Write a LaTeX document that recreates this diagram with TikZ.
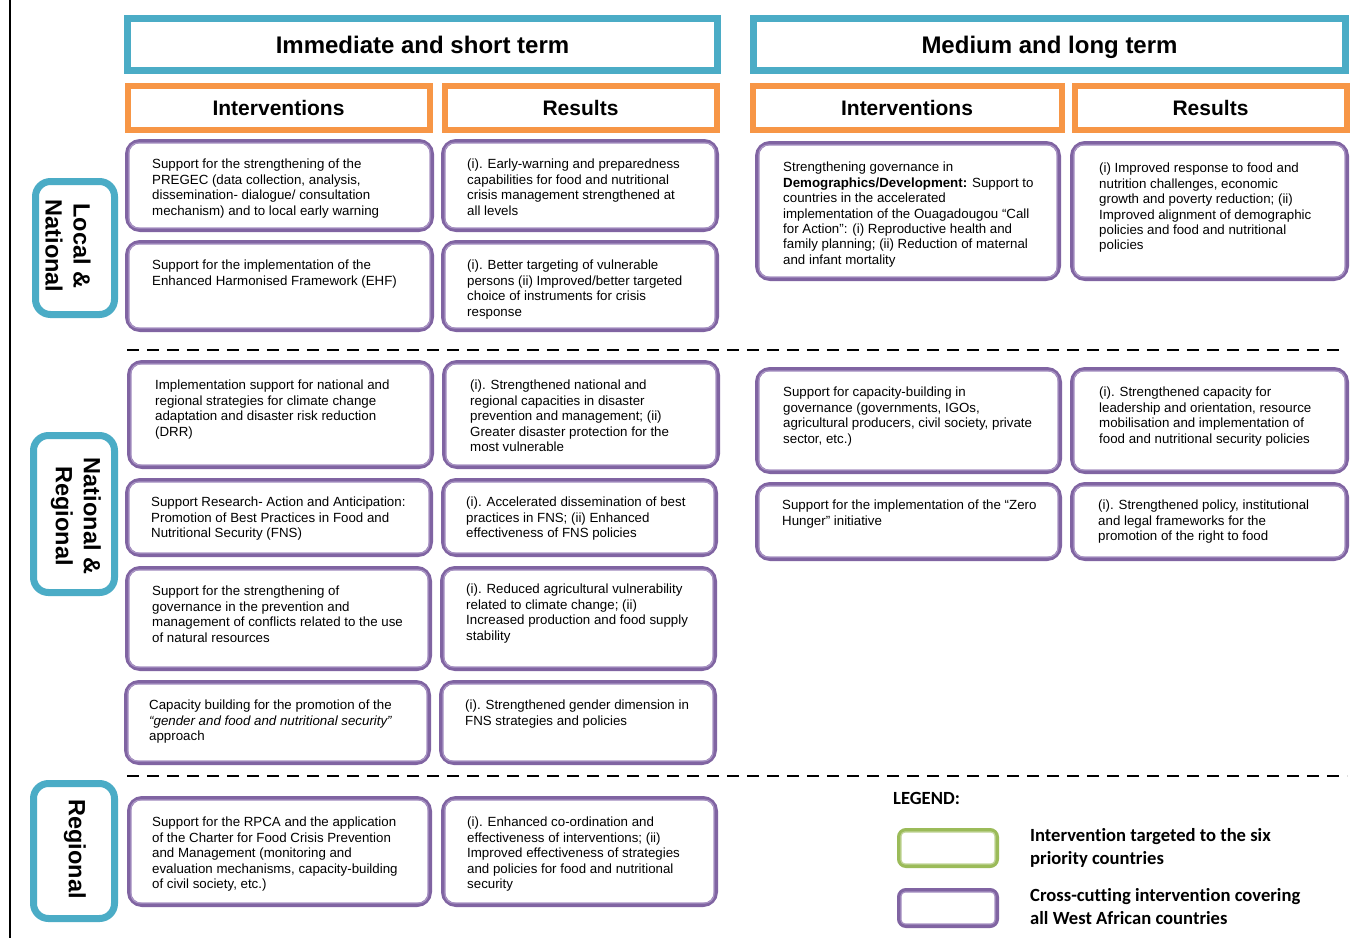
\documentclass[tikz,border=0pt]{standalone}
\usepackage{fontspec}
\setmainfont{Liberation Sans}
\newfontfamily\legfont[Ligatures=NoCommon]{Carlito}
\definecolor{cTeal}{HTML}{4BACC6}
\definecolor{cOrange}{HTML}{F79646}
\definecolor{cPurple}{HTML}{8064A2}
\definecolor{cPurpleIn}{HTML}{A994C4}
\definecolor{cGreen}{HTML}{9BBB59}
\definecolor{cGreenIn}{HTML}{C3D69B}
\tikzset{
  hdr/.style={draw=cTeal, line width=7pt, fill=white, inner sep=0pt, text height=17pt, text depth=0pt, font=\fontsize{24}{28}\selectfont\bfseries},
  subhdr/.style={draw=cOrange, line width=6pt, fill=white, inner sep=0pt, text height=15pt, text depth=0pt, font=\fontsize{21}{25}\selectfont\bfseries},
  side/.style={draw=cTeal, line width=7pt, rounded corners=15pt, fill=white, inner sep=0pt},
  sidetxt/.style={rotate=-90, align=center, inner sep=0pt, font=\fontsize{23.5}{28}\selectfont\bfseries},
  pout/.style={draw=cPurple, line width=4pt, rounded corners=13pt, fill=white, inner sep=0pt},
  pin/.style={draw=cPurpleIn, line width=1.2pt, rounded corners=9pt},
  gout/.style={draw=cGreen, line width=4pt, rounded corners=7pt, fill=white, inner sep=0pt},
  gin/.style={draw=cGreenIn, line width=1.2pt, rounded corners=4pt},
  lout/.style={draw=cPurple, line width=4pt, rounded corners=7pt, fill=white, inner sep=0pt},
  lin/.style={draw=cPurpleIn, line width=1.2pt, rounded corners=4pt},
  body/.style={anchor=north west, align=left, inner sep=0pt, font=\fontsize{13.3}{15.4}\selectfont},
  legt/.style={align=left, inner sep=0pt, font=\legfont\fontsize{18.6}{23}\selectfont\bfseries},
  sepline/.style={line width=2.5pt, dash pattern=on 12pt off 8pt},
}
% name x1 y1 x2 y2 textx texty text
\newcommand\pbx[8]{%
  \node[pout, minimum width={#4-#2-4}, minimum height={#5-#3-4}] (#1) at ({(#2+#4)/2},{(#3+#5)/2}) {};
  \draw[pin] ([shift={(4,4)}]#1.north west) rectangle ([shift={(-4,-4)}]#1.south east);
  \node[body] (#1t) at (#6,{#7+2}) {#8};
}
\begin{document}
\begin{tikzpicture}[x=1pt, y=-1pt]
\useasboundingbox (0,0) rectangle (1363,938);
\fill[white] (0,0) rectangle (1363,938);
\draw[line width=2pt] (10,0) -- (10,938);

% headers
\node[hdr, minimum width=590, minimum height=52] (H1) at (422.5,44.5) {Immediate and short term};
\node[hdr, minimum width=592, minimum height=52] (H2) at (1049.5,44.5) {Medium and long term};
\node[subhdr, minimum width=302, minimum height=44] (S1) at (278.5,107.5) {Interventions};
\node[subhdr, minimum width=272, minimum height=44] (S2) at (580.5,107.5) {Results};
\node[subhdr, minimum width=309, minimum height=44] (S3) at (907,107.5) {Interventions};
\node[subhdr, minimum width=272, minimum height=44] (S4) at (1210.5,107.5) {Results};

% side labels
\node[side, minimum width=79, minimum height=133] (L1) at (75,248) {};
\node[sidetxt] (L1t) at (68,246) {Local \&\\National};
\node[side, minimum width=81, minimum height=157] (L2) at (74,514) {};
\node[sidetxt] (L2t) at (76,516) {National \&\\Regional};
\node[side, minimum width=81, minimum height=135] (L3) at (74,851) {};
\node[sidetxt] (L3t) at (75,849) {Regional};

% separators
\draw[sepline] (127,350) -- (1345,350);
\draw[sepline] (127,776) -- (1347,776);

% immediate: local & national
\pbx{A1}{125}{139}{434}{232}{152}{157}{Support for the strengthening of the\\PREGEC (data collection, analysis,\\dissemination- dialogue/ consultation\\mechanism) and to local early warning}
\pbx{A2}{125}{240}{434}{332}{152}{258}{Support for the implementation of the\\Enhanced Harmonised Framework (EHF)}
\pbx{B1}{441}{139}{719}{232}{467}{157}{(i). Early-warning and preparedness\\capabilities for food and nutritional\\crisis management strengthened at\\all levels}
\pbx{B2}{441}{240}{719}{332}{467}{258}{(i). Better targeting of vulnerable\\persons (ii) Improved/better targeted\\choice of instruments for crisis\\response}

% immediate: national & regional
\pbx{A3}{127}{360}{434}{469}{155}{378}{Implementation support for national and\\regional strategies for climate change\\adaptation and disaster risk reduction\\(DRR)}
\pbx{B3}{442}{360}{720}{469}{470}{378}{(i). Strengthened national and\\regional capacities in disaster\\prevention and management; (ii)\\Greater disaster protection for the\\most vulnerable}
\pbx{A4}{125}{478}{433}{557}{151}{495}{Support Research- Action and Anticipation:\\Promotion of Best Practices in Food and\\Nutritional Security (FNS)}
\pbx{B4}{441}{478}{718}{557}{466}{495}{(i). Accelerated dissemination of best\\practices in FNS; (ii) Enhanced\\effectiveness of FNS policies}
\pbx{A5}{125}{566}{432}{671}{152}{584}{Support for the strengthening of\\governance in the prevention and\\management of conflicts related to the use\\of natural resources}
\pbx{B5}{440}{566}{717}{671}{466}{582}{(i). Reduced agricultural vulnerability\\related to climate change; (ii)\\Increased production and food supply\\stability}
\pbx{A6}{124}{680}{431}{765}{149}{698}{Capacity building for the promotion of the\\\textit{“gender and food and nutritional security”}\\approach}
\pbx{B6}{439}{680}{717}{765}{465}{698}{(i). Strengthened gender dimension in\\FNS strategies and policies}

% immediate: regional
\pbx{A7}{127}{796}{432}{907}{152}{815}{Support for the RPCA and the application\\of the Charter for Food Crisis Prevention\\and Management (monitoring and\\evaluation mechanisms, capacity-building\\of civil society, etc.)}
\pbx{B7}{441}{796}{718}{907}{467}{815}{(i). Enhanced co-ordination and\\effectiveness of interventions; (ii)\\Improved effectiveness of strategies\\and policies for food and nutritional\\security}

% medium and long term
\pbx{C1}{755}{141}{1061}{281}{783}{160}{Strengthening governance in\\\textbf{Demographics/Development:} Support to\\countries in the accelerated\\implementation of the Ouagadougou “Call\\for Action”: (i) Reproductive health and\\family planning; (ii) Reduction of maternal\\and infant mortality}
\pbx{D1}{1070}{141}{1349}{281}{1099}{161}{(i) Improved response to food and\\nutrition challenges, economic\\growth and poverty reduction; (ii)\\Improved alignment of demographic\\policies and food and nutritional\\policies}
\pbx{C2}{755}{367}{1062}{474}{783}{385}{Support for capacity-building in\\governance (governments, IGOs,\\agricultural producers, civil society, private\\sector, etc.)}
\pbx{D2}{1070}{367}{1349}{474}{1099}{385}{(i). Strengthened capacity for\\leadership and orientation, resource\\mobilisation and implementation of\\food and nutritional security policies}
\pbx{C3}{755}{482}{1062}{561}{782}{498}{Support for the implementation of the “Zero\\Hunger” initiative}
\pbx{D3}{1070}{482}{1349}{561}{1098}{498}{(i). Strengthened policy, institutional\\and legal frameworks for the\\promotion of the right to food}

% legend
\node[legt, anchor=base west] (LEG) at (893,804) {LEGEND:};
\node[gout, minimum width=98, minimum height=36] (LG) at (948,848) {};
\draw[gin] ([shift={(4,4)}]LG.north west) rectangle ([shift={(-4,-4)}]LG.south east);
\node[lout, minimum width=98, minimum height=36] (LP) at (948,908) {};
\draw[lin] ([shift={(4,4)}]LP.north west) rectangle ([shift={(-4,-4)}]LP.south east);
\node[legt, anchor=north west] (LGt) at (1030,828) {Intervention targeted to the six\\priority countries};
\node[legt, anchor=north west] (LPt) at (1030,888) {Cross-cutting intervention covering\\all West African countries};
\end{tikzpicture}
\end{document}
